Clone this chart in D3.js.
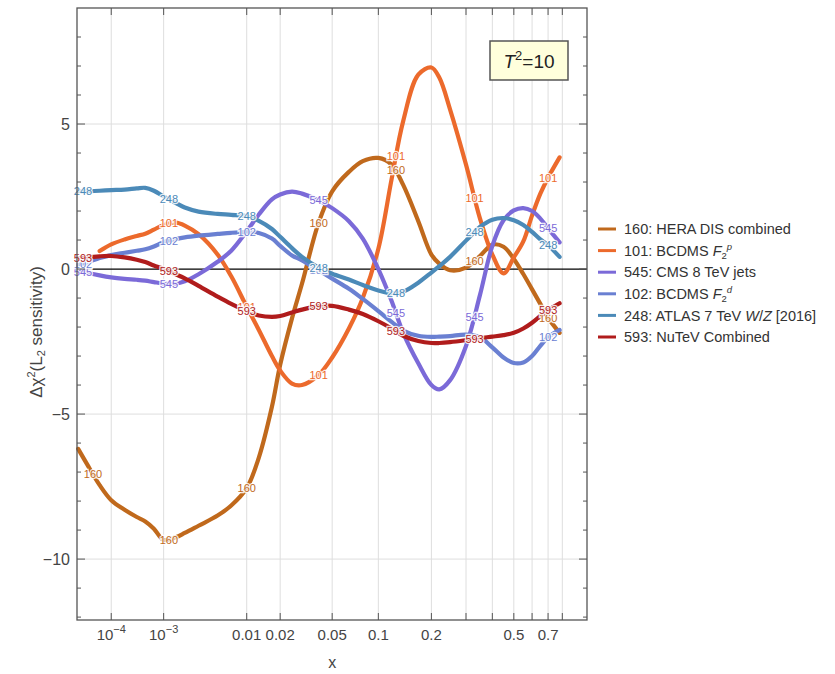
<!DOCTYPE html>
<html>
<head>
<meta charset="utf-8">
<script src="https://cdn.jsdelivr.net/npm/d3@7.9.0/dist/d3.min.js"></script>
<style>
  body { margin: 0; background: #fff; }
  svg { display: block; font-family: "Liberation Sans", Arial, sans-serif; }
</style>
</head>
<body>
<svg id="chart" width="835" height="674"></svg>
<script>
const xGrid = [1e-5, 2e-5, 5e-5, 1e-4, 2e-4, 3.5e-4, 5e-4, 7e-4, 1e-3, 1.5e-3, 2e-3, 3e-3, 5e-3, 7e-3,
  0.01, 0.013, 0.017, 0.02, 0.025, 0.03, 0.04, 0.05, 0.065, 0.08, 0.1, 0.12, 0.14, 0.17, 0.2, 0.22,
  0.25, 0.3, 0.35, 0.4, 0.45, 0.5, 0.55, 0.6, 0.65, 0.7, 0.78];

// delta chi^2 for each experiment (null = curve not drawn there)
const hera160 = [-6.2, -6.7, -7.45, -7.97, -8.3, -8.55, -8.7, -8.95, -9.34, -9.25, -9.1, -8.85, -8.5, -8.15,
  -7.55, -6.5, -4.75, -3.3, -1.7, -0.5, 1.6, 2.68, 3.35, 3.72, 3.83, 3.6, 2.9, 1.65, 0.5, 0.19,
  -0.04, 0.05, 0.45, 0.84, 0.77, 0.35, -0.17, -0.7, -1.2, -1.68, -2.2];
const bcdmsP101 = [null, null, 0.62, 0.85, 1.02, 1.14, 1.22, 1.36, 1.52, 1.6, 1.5, 1.2, 0.5, -0.25,
  -1.3, -2.1, -3.0, -3.5, -3.95, -4.0, -3.65, -3.05, -2.05, -1.0, 0.7, 3.1, 5.1, 6.7, 6.95, 6.6,
  5.5, 3.6, 1.75, 0.5, -0.15, 0.4, 0.95, 1.85, 2.6, 3.15, 3.85];
const cms545 = [-0.04, -0.12, -0.22, -0.29, -0.34, -0.37, -0.4, -0.45, -0.5, -0.5, -0.42, -0.18, 0.25, 0.63,
  1.3, 1.88, 2.4, 2.57, 2.67, 2.6, 2.37, 2.1, 1.65, 1.05, 0.0, -1.1, -2.2, -3.25, -4.0, -4.15,
  -3.83, -2.65, -0.9, 0.8, 1.68, 2.02, 2.1, 2.0, 1.74, 1.4, 0.92];
const bcdmsD102 = [0.15, 0.22, 0.38, 0.48, 0.56, 0.63, 0.68, 0.78, 0.93, 1.03, 1.09, 1.15, 1.21, 1.25,
  1.27, 1.24, 1.05, 0.8, 0.47, 0.3, -0.05, -0.33, -0.68, -1.03, -1.45, -1.82, -2.12, -2.3, -2.34, -2.33,
  -2.31, -2.26, -2.35, -2.7, -3.05, -3.24, -3.22, -3.0, -2.65, -2.35, -2.1];
const atlas248 = [2.67, 2.68, 2.7, 2.72, 2.74, 2.78, 2.8, 2.7, 2.5, 2.28, 2.12, 1.98, 1.9, 1.87,
  1.82, 1.66, 1.38, 1.11, 0.72, 0.42, 0.05, -0.16, -0.36, -0.55, -0.74, -0.84, -0.78, -0.47, -0.12, 0.1,
  0.42, 0.98, 1.45, 1.7, 1.76, 1.68, 1.52, 1.28, 1.02, 0.82, 0.42];
const nutev593 = [0.36, 0.4, 0.44, 0.45, 0.4, 0.32, 0.24, 0.12, 0.0, -0.18, -0.32, -0.58, -0.95, -1.2,
  -1.45, -1.6, -1.65, -1.62, -1.5, -1.4, -1.28, -1.27, -1.4, -1.55, -1.8, -2.05, -2.3, -2.48, -2.55, -2.55,
  -2.52, -2.45, -2.38, -2.33, -2.28, -2.2, -2.05, -1.85, -1.62, -1.42, -1.18];

const seriesIds = ["160", "101", "545", "102", "248", "593"];
const seriesValues = [hera160, bcdmsP101, cms545, bcdmsD102, atlas248, nutev593];
const seriesColors = ["#c0691c", "#ec6a2c", "#7b6ad8", "#6a80d2", "#4b8ab8", "#b01c1c"];
// legend text pieces: [text, style]
const legendNames = [
  [["160: HERA DIS combined", ""]],
  [["101: BCDMS ", ""], ["F", "i"], ["2", "sub"], ["p", "sup"]],
  [["545: CMS 8 TeV jets", ""]],
  [["102: BCDMS ", ""], ["F", "i"], ["2", "sub"], ["d", "sup"]],
  [["248: ATLAS 7 TeV ", ""], ["W", "i"], ["/", ""], ["Z", "i"], [" [2016]", ""]],
  [["593: NuTeV Combined", ""]]
];
// x positions of the little number tags on each curve
const tagXs = [
  [3.2e-5, 1.2e-3, 0.01, 0.04, 0.127, 0.33, 0.7],
  [1.2e-3, 0.01, 0.04, 0.127, 0.33, 0.7],
  [1.5e-5, 1.2e-3, 0.04, 0.127, 0.33, 0.7],
  [1.5e-5, 1.2e-3, 0.01, 0.04, 0.7],
  [1.5e-5, 1.2e-3, 0.01, 0.04, 0.127, 0.33, 0.7],
  [1.5e-5, 1.2e-3, 0.01, 0.04, 0.127, 0.33, 0.7]
];

const xTickValues = [1e-4, 1e-3, 0.01, 0.02, 0.05, 0.1, 0.2, 0.3, 0.4, 0.5, 0.6, 0.7, 0.8];
const xTickLabels = ["10|-4", "10|-3", "0.01", "0.02", "0.05", "0.1", "0.2", "", "", "0.5", "", "0.7", ""];
const yTickValues = d3.range(-12, 9);
const yLabelValues = [-10, -5, 0, 5];
const yGridValues = [-10, -5, 5];

const svg = d3.select("#chart");
const plotL = 77, plotR = 587, plotT = 8, plotB = 620;

const x = d3.scalePow().exponent(0.2).domain([9e-6, 1]).range([plotL, plotR]);
const y = d3.scaleLinear().domain([-12.1, 9.0]).range([plotB, plotT]);

svg.append("rect").attr("width", 835).attr("height", 674).attr("fill", "#fff");

// grid
svg.append("g").selectAll("line").data(xTickValues).join("line")
  .attr("x1", d => x(d)).attr("x2", d => x(d)).attr("y1", plotT).attr("y2", plotB)
  .attr("stroke", "#dedede").attr("stroke-width", 1);
svg.append("g").selectAll("line").data(yGridValues).join("line")
  .attr("x1", plotL).attr("x2", plotR).attr("y1", d => y(d)).attr("y2", d => y(d))
  .attr("stroke", "#dedede").attr("stroke-width", 1);
svg.append("line").attr("x1", plotL).attr("x2", plotR).attr("y1", y(0)).attr("y2", y(0))
  .attr("stroke", "#000").attr("stroke-width", 1.2);

// curves
const line = d3.line()
  .defined(d => d.y !== null)
  .x(d => x(d.x)).y(d => y(d.y))
  .curve(d3.curveCatmullRom.alpha(0.5));

const plot = svg.append("g");
const tags = svg.append("g").attr("font-size", 11);

seriesIds.forEach((id, i) => {
  const pts = xGrid.map((xv, j) => ({ x: xv, y: seriesValues[i][j] }));
  const path = plot.append("path")
    .attr("d", line(pts))
    .attr("fill", "none")
    .attr("stroke", seriesColors[i])
    .attr("stroke-width", 4.2)
    .attr("stroke-linecap", "round");

  // find the point on the drawn path at each tag x
  const node = path.node();
  const total = node.getTotalLength();
  tagXs[i].forEach(tx => {
    const px = x(tx);
    let lo = 0, hi = total;
    for (let k = 0; k < 40; k++) {
      const mid = (lo + hi) / 2;
      if (node.getPointAtLength(mid).x < px) lo = mid; else hi = mid;
    }
    const p = node.getPointAtLength(lo);
    tags.append("text")
      .attr("x", p.x).attr("y", p.y)
      .attr("text-anchor", "middle")
      .attr("dominant-baseline", "central")
      .attr("fill", seriesColors[i])
      .attr("stroke", "#fff").attr("stroke-width", 2.5).attr("stroke-opacity", 0.85)
      .attr("paint-order", "stroke")
      .text(id);
  });
});

// frame and ticks
const frameColor = "#555";
svg.append("rect")
  .attr("x", plotL).attr("y", plotT).attr("width", plotR - plotL).attr("height", plotB - plotT)
  .attr("fill", "none").attr("stroke", frameColor).attr("stroke-width", 1.3);

const ticks = svg.append("g").attr("stroke", frameColor).attr("stroke-width", 1);
xTickValues.forEach(v => {
  ticks.append("line").attr("x1", x(v)).attr("x2", x(v)).attr("y1", plotB).attr("y2", plotB - 7);
  ticks.append("line").attr("x1", x(v)).attr("x2", x(v)).attr("y1", plotT).attr("y2", plotT + 7);
});
yTickValues.forEach(v => {
  const len = yLabelValues.includes(v) ? 8 : 4;
  ticks.append("line").attr("x1", plotL).attr("x2", plotL + len).attr("y1", y(v)).attr("y2", y(v));
  ticks.append("line").attr("x1", plotR).attr("x2", plotR - len).attr("y1", y(v)).attr("y2", y(v));
});

// tick labels
const xl = svg.append("g").attr("font-size", 15).attr("fill", "#444").attr("text-anchor", "middle");
xTickValues.forEach((v, i) => {
  const lab = xTickLabels[i];
  if (!lab) return;
  const t = xl.append("text").attr("x", x(v)).attr("y", 640);
  if (lab.includes("|")) {
    const [base, ex] = lab.split("|");
    t.append("tspan").text(base);
    t.append("tspan").attr("dy", -7).attr("font-size", 11).text("\u2212" + ex.slice(1));
  } else {
    t.text(lab);
  }
});
svg.append("g").attr("font-size", 16).attr("fill", "#444").attr("text-anchor", "end")
  .selectAll("text").data(yLabelValues).join("text")
  .attr("x", 70).attr("y", d => y(d)).attr("dy", "0.36em")
  .text(d => d < 0 ? "\u2212" + Math.abs(d) : d);

// axis titles
svg.append("text").attr("x", x(0.05)).attr("y", 668).attr("text-anchor", "middle")
  .attr("font-size", 16).attr("fill", "#444").text("x");
const yt = svg.append("text").attr("transform", "translate(42,332) rotate(-90)")
  .attr("text-anchor", "middle").attr("font-size", 17).attr("fill", "#444");
yt.append("tspan").text("\u0394\u03c7");
yt.append("tspan").attr("dy", -7).attr("font-size", 11).text("2");
yt.append("tspan").attr("dy", 7).text("(L");
yt.append("tspan").attr("dy", 3).attr("font-size", 11).text("2");
yt.append("tspan").attr("dy", -3).text(" sensitivity)");

// T^2 box
svg.append("rect").attr("x", 490).attr("y", 41).attr("width", 78).attr("height", 39)
  .attr("fill", "#ffffdc").attr("stroke", "#555").attr("stroke-width", 1.5);
const tb = svg.append("text").attr("x", 529).attr("y", 68).attr("text-anchor", "middle")
  .attr("font-size", 19).attr("fill", "#222");
tb.append("tspan").attr("font-style", "italic").text("T");
tb.append("tspan").attr("dy", -8).attr("font-size", 13).text("2");
tb.append("tspan").attr("dy", 8).text("=10");

// legend
const legend = svg.append("g");
legendNames.forEach((pieces, i) => {
  const ly = 229 + i * 21.6;
  legend.append("line").attr("x1", 598).attr("x2", 616).attr("y1", ly).attr("y2", ly)
    .attr("stroke", seriesColors[i]).attr("stroke-width", 3);
  const t = legend.append("text").attr("x", 624).attr("y", ly).attr("dy", "0.36em")
    .attr("font-size", 14.5).attr("fill", "#333");
  let shift = 0;
  pieces.forEach(([txt, style]) => {
    const s = t.append("tspan").text(txt);
    let want = 0;
    if (style === "sub") { want = 3; s.attr("font-size", 9.5); }
    if (style === "sup") { want = -6; s.attr("font-size", 9.5).attr("font-style", "italic"); }
    if (style === "i") s.attr("font-style", "italic");
    if (want !== shift) { s.attr("dy", want - shift); shift = want; }
  });
});
</script>
</body>
</html>
